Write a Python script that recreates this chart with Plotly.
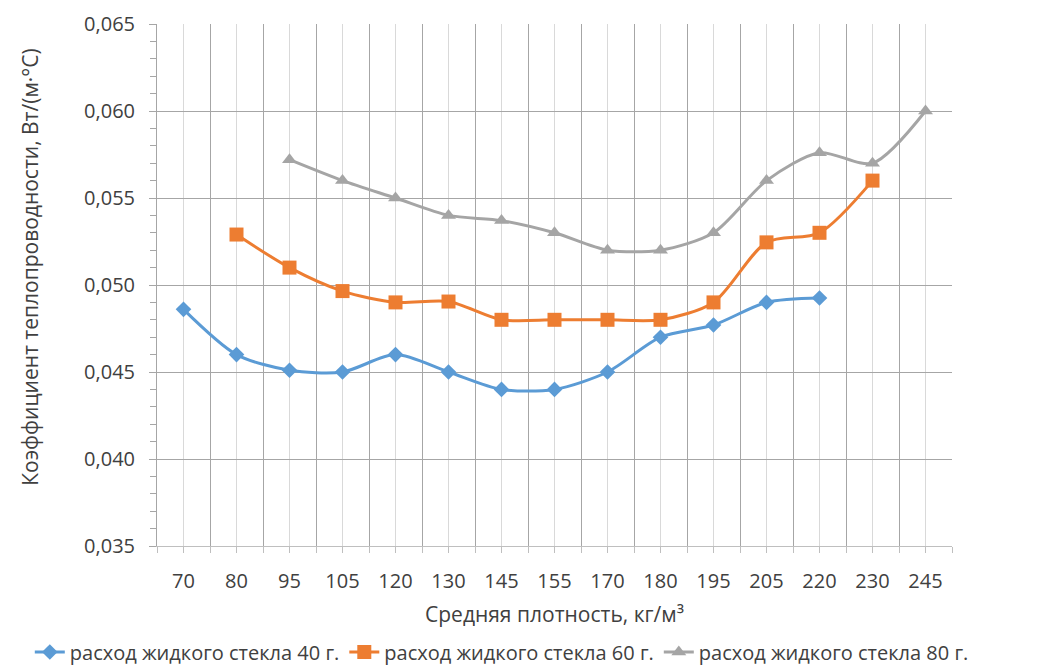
import plotly.graph_objects as go

categories = ["70", "80", "95", "105", "120", "130", "145", "155", "170", "180", "195", "205", "220", "230", "245"]
s40 = [0.0486, 0.0460, 0.0451, 0.0450, 0.0460, 0.0450, 0.0440, 0.0440, 0.0450, 0.0470, 0.0477, 0.0490, 0.04925, None, None]
s60 = [None, 0.0529, 0.0510, 0.04965, 0.0490, 0.04905, 0.0480, 0.0480, 0.0480, 0.0480, 0.0490, 0.05245, 0.0530, 0.0560, None]
s80 = [None, None, 0.0572, 0.0560, 0.0550, 0.0540, 0.0537, 0.0530, 0.0520, 0.0520, 0.0530, 0.0560, 0.0576, 0.0570, 0.0600]
names = ["расход жидкого стекла 40 г.", "расход жидкого стекла 60 г.", "расход жидкого стекла 80 г."]
x_title = "Средняя плотность, кг/м³"
y_title = "Коэффициент теплопроводности, Вт/(м·°С)"

colors = ["#5B9BD5", "#ED7D31", "#A5A5A5"]
symbols = ["diamond", "square", "triangle-up"]
sizes = [12, 14, 13]

x = list(range(len(categories)))
fig = go.Figure()
for ys, nm, c, sym, sz in zip([s40, s60, s80], names, colors, symbols, sizes):
    fig.add_trace(go.Scatter(
        x=x, y=ys, name=nm, mode="lines+markers",
        line=dict(color=c, width=3, shape="spline", smoothing=0.8),
        marker=dict(symbol=sym, size=sz, color=c),
    ))

font = "Open Sans"
txt = "#404040"
fig.update_layout(
    width=1037, height=668,
    margin=dict(l=157, r=85, t=24, b=122, autoexpand=False),
    plot_bgcolor="white", paper_bgcolor="white",
    separators=", ",
    font=dict(family=font, color=txt),
    showlegend=True,
    legend=dict(orientation="h", xref="paper", x=-0.16, xanchor="left",
                yref="paper", y=-0.2405, yanchor="bottom",
                font=dict(size=20, color=txt), tracegroupgap=0),
    xaxis=dict(
        range=[-0.5, len(categories) - 0.5],
        tickmode="array", tickvals=x, ticktext=categories,
        tickfont=dict(size=20, color=txt), ticklabelstandoff=11,
        showgrid=True, gridcolor="#d9d9d9", gridwidth=1,
        ticks="outside", ticklen=6, tickcolor="#bfbfbf",
        showline=True, linecolor="#bfbfbf", linewidth=1,
        minor=dict(tick0=-0.5, dtick=1, showgrid=True, gridcolor="#a6a6a6", gridwidth=1,
                   ticks="outside", ticklen=6, tickcolor="#bfbfbf"),
        zeroline=False,
        title=dict(text=x_title, font=dict(size=21, color=txt), standoff=14),
    ),
    yaxis=dict(
        range=[0.035, 0.065], dtick=0.005, tick0=0.035, tickformat=".3f",
        tickfont=dict(size=20, color=txt), ticklabelstandoff=10,
        showgrid=True, gridcolor="#a6a6a6", gridwidth=1,
        ticks="outside", ticklen=7, tickcolor="#a6a6a6",
        showline=True, linecolor="#a6a6a6", linewidth=1,
        minor=dict(dtick=0.001, ticks="outside", ticklen=6, tickcolor="#a6a6a6", showgrid=False),
        zeroline=False,
    ),
    annotations=[dict(text=y_title, textangle=-90, xref="paper", yref="paper",
                      x=-0.16, y=0.5345, xanchor="center", yanchor="middle",
                      showarrow=False, font=dict(size=21, color=txt))],
)

fig.write_html("out.html", config={"displayModeBar": False},
               post_script="document.body.style.margin='0px';")
